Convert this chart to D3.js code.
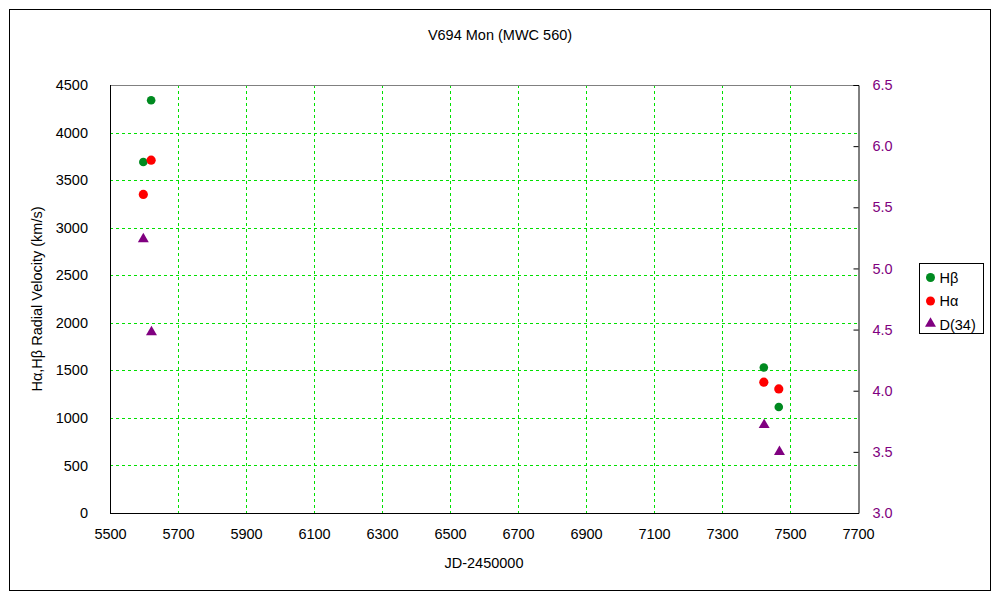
<!DOCTYPE html>
<html>
<head>
<meta charset="utf-8">
<script src="https://cdn.jsdelivr.net/npm/d3@7"></script>
<style>
  body { margin: 0; background: #fff; }
  text { font-family: "Liberation Sans", Arial, sans-serif; }
</style>
</head>
<body>
<script>
// values
let hbDates = [5598, 5621, 7423, 7467]
let hbVel = [3690, 4340, 1530, 1115]
let haDates = [5598, 5621, 7423, 7467]
let haVel = [3350, 3710, 1375, 1305]
let d34Dates = [5598, 5622, 7424, 7469]
let d34Val = [5.24, 4.48, 3.72, 3.50]

let xTicks = [5500, 5700, 5900, 6100, 6300, 6500, 6700, 6900, 7100, 7300, 7500, 7700]
let yTicks = [0, 500, 1000, 1500, 2000, 2500, 3000, 3500, 4000, 4500]
let y2Ticks = [3.0, 3.5, 4.0, 4.5, 5.0, 5.5, 6.0, 6.5]
let legendNames = ['H\u03B2', 'H\u03B1', 'D(34)']

let width = 1000
let height = 600
let plot = {left: 110, right: 858, top: 85, bottom: 513}
let green = '#008a20'
let red = '#ff0000'
let purple = '#800080'
let gridColor = '#00e000'
let fontSize = '14.5px'

let svg = d3.select('body').append('svg')
  .attr('width', width)
  .attr('height', height)

// outer frame
svg.append('rect')
  .attr('x', 9.5).attr('y', 9.5)
  .attr('width', 981).attr('height', 581)
  .style('fill', 'none')
  .style('stroke', 'black')
  .style('stroke-width', '1px')

let xScale = d3.scaleLinear().domain([5500, 7700]).range([plot.left, plot.right])
let yScale = d3.scaleLinear().domain([0, 4500]).range([plot.bottom, plot.top])
let y2Scale = d3.scaleLinear().domain([3.0, 6.5]).range([plot.bottom, plot.top])

/* grid */
let grid = svg.append('g').attr('class', 'grid')
grid.selectAll('.vgrid')
  .data(xTicks.slice(1, -1))
  .enter().append('line')
  .attr('x1', d => Math.round(xScale(d)) + 0.5)
  .attr('x2', d => Math.round(xScale(d)) + 0.5)
  .attr('y1', plot.top)
  .attr('y2', plot.bottom)
  .style('stroke', gridColor)
  .style('stroke-dasharray', '3,3')
grid.selectAll('.hgrid')
  .data(yTicks.slice(1, -1))
  .enter().append('line')
  .attr('x1', plot.left)
  .attr('x2', plot.right)
  .attr('y1', d => Math.round(yScale(d)) + 0.5)
  .attr('y2', d => Math.round(yScale(d)) + 0.5)
  .style('stroke', gridColor)
  .style('stroke-dasharray', '3,3')

/* plot borders */
svg.append('line')
  .attr('x1', plot.left).attr('x2', plot.right)
  .attr('y1', plot.top + 0.5).attr('y2', plot.top + 0.5)
  .style('stroke', '#808080')
svg.append('line')
  .attr('x1', plot.left + 0.5).attr('x2', plot.left + 0.5)
  .attr('y1', plot.top).attr('y2', plot.bottom + 1)
  .style('stroke', 'black')
svg.append('line')
  .attr('x1', plot.left).attr('x2', plot.right + 1)
  .attr('y1', plot.bottom + 0.5).attr('y2', plot.bottom + 0.5)
  .style('stroke', 'black')

// right axis with inward ticks
let rightAxis = d3.axisLeft(y2Scale)
  .tickValues(y2Ticks)
  .tickSize(5)
  .tickFormat(d3.format('.1f'))
let gRight = svg.append('g')
  .attr('transform', 'translate(' + (plot.right + 0.5) + ',0)')
  .call(rightAxis)
gRight.select('.domain').style('stroke', 'black')
gRight.selectAll('.tick line').style('stroke', 'black')
gRight.selectAll('.tick text')
  .attr('x', 14)
  .style('text-anchor', 'start')
  .style('fill', purple)
  .style('font-size', fontSize)
  .style('font-family', '"Liberation Sans", Arial, sans-serif')

// left axis labels (no tick marks)
let leftAxis = d3.axisLeft(yScale).tickValues(yTicks).tickSize(0).tickPadding(22)
  .tickFormat(d3.format('d'))
let gLeft = svg.append('g')
  .attr('transform', 'translate(' + plot.left + ',0)')
  .call(leftAxis)
gLeft.select('.domain').remove()
gLeft.selectAll('.tick text')
  .style('fill', 'black')
  .style('font-size', fontSize)
  .style('font-family', '"Liberation Sans", Arial, sans-serif')

// bottom axis labels
let bottomAxis = d3.axisBottom(xScale).tickValues(xTicks).tickSize(0).tickPadding(16)
  .tickFormat(d3.format('d'))
let gBottom = svg.append('g')
  .attr('transform', 'translate(0,' + plot.bottom + ')')
  .call(bottomAxis)
gBottom.select('.domain').remove()
gBottom.selectAll('.tick text')
  .style('fill', 'black')
  .style('font-size', fontSize)
  .style('font-family', '"Liberation Sans", Arial, sans-serif')

/* titles */
svg.append('text')
  .attr('x', 500).attr('y', 40)
  .attr('text-anchor', 'middle')
  .style('font-size', fontSize)
  .text('V694 Mon (MWC 560)')

svg.append('text')
  .attr('x', 484).attr('y', 568)
  .attr('text-anchor', 'middle')
  .style('font-size', fontSize)
  .text('JD-2450000')

svg.append('text')
  .attr('transform', 'translate(42,299) rotate(-90)')
  .attr('text-anchor', 'middle')
  .style('font-size', fontSize)
  .text('H\u03B1,H\u03B2 Radial Velocity (km/s)')

/* points */
let marks = svg.append('g').attr('class', 'marks')
marks.selectAll('.hb')
  .data(hbDates.map((d, i) => ({x: d, y: hbVel[i]})))
  .enter().append('circle')
  .attr('cx', d => xScale(d.x))
  .attr('cy', d => yScale(d.y))
  .attr('r', 4.3)
  .style('fill', green)
marks.selectAll('.ha')
  .data(haDates.map((d, i) => ({x: d, y: haVel[i]})))
  .enter().append('circle')
  .attr('cx', d => xScale(d.x))
  .attr('cy', d => yScale(d.y))
  .attr('r', 4.6)
  .style('fill', red)
let tri = d3.symbol().type(d3.symbolTriangle).size(52)
marks.selectAll('.d34')
  .data(d34Dates.map((d, i) => ({x: d, y: d34Val[i]})))
  .enter().append('path')
  .attr('d', tri)
  .attr('transform', d => 'translate(' + xScale(d.x) + ',' + y2Scale(d.y) + ')')
  .style('fill', purple)

/* legend */
let legend = svg.append('g').attr('transform', 'translate(919.5,263.5)')
legend.append('rect')
  .attr('width', 64).attr('height', 70)
  .style('fill', 'white')
  .style('stroke', 'black')
legendNames.forEach((name, i) => {
  let cy = 14 + i * 23.5
  if (i < 2) {
    legend.append('circle')
      .attr('cx', 11).attr('cy', cy).attr('r', 4.5)
      .style('fill', i === 0 ? green : red)
  } else {
    legend.append('path')
      .attr('d', tri)
      .attr('transform', 'translate(11,' + (cy - 1) + ')')
      .style('fill', purple)
  }
  legend.append('text')
    .attr('x', 20).attr('y', cy + 5)
    .style('font-size', fontSize)
    .text(name)
})
</script>
</body>
</html>
